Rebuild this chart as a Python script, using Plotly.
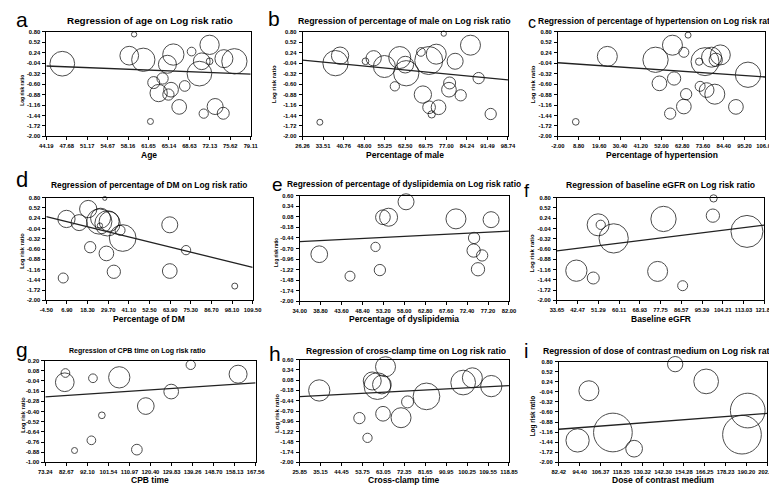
import plotly.graph_objects as go

W, H = 777, 486

# ---------------- data ----------------
titles = ["Regression of age on Log risk ratio",
          "Regression of percentage of male on Log risk ratio",
          "Regression of percentage of hypertension on Log risk ratio",
          "Regression of percentage of DM on Log risk ratio",
          "Regression of percentage of dyslipidemia on Log risk ratio",
          "Regression of baseline eGFR on Log risk ratio",
          "Regression of CPB time on Log risk ratio",
          "Regression of cross-clamp time on Log risk ratio",
          "Regression of dose of contrast medium on Log risk ratio"]
x_titles = ["Age", "Percentage of male", "Percentage of hypertension",
            "Percentage of DM", "Percentage of dyslipidemia", "Baseline eGFR",
            "CPB time", "Cross-clamp time", "Dose of contrast medium"]
letters = ["a", "b", "c", "d", "e", "f", "g", "h", "i"]

xt_a = ["44.19", "47.68", "51.17", "54.67", "58.16", "61.65", "65.14", "68.63", "72.13", "75.62", "79.11"]
xt_b = ["26.26", "33.51", "40.76", "48.00", "55.25", "62.50", "69.75", "77.00", "84.24", "91.49", "98.74"]
xt_c = ["-2.00", "8.80", "19.60", "30.40", "41.20", "52.00", "62.80", "73.60", "84.40", "95.20", "106.00"]
xt_d = ["-4.50", "6.90", "18.30", "29.70", "41.10", "52.50", "63.90", "75.30", "86.70", "98.10", "109.50"]
xt_e = ["34.00", "38.80", "43.60", "48.40", "53.20", "58.00", "62.80", "67.60", "72.40", "77.20", "82.00"]
xt_f = ["33.65", "42.47", "51.29", "60.11", "68.93", "77.75", "86.57", "95.39", "104.21", "113.03", "121.85"]
xt_g = ["73.24", "82.67", "92.10", "101.54", "110.97", "120.40", "129.83", "139.26", "148.70", "158.13", "167.56"]
xt_h = ["25.85", "35.15", "44.45", "53.75", "63.05", "72.35", "81.65", "90.95", "100.25", "109.55", "118.85"]
xt_i = ["82.42", "94.40", "106.37", "118.35", "130.32", "142.30", "154.28", "166.25", "178.23", "190.20", "202.18"]

yt_std = ["0.80", "0.52", "0.24", "-0.04", "-0.32", "-0.60", "-0.88", "-1.16", "-1.44", "-1.72", "-2.00"]
yt_eh = ["0.60", "0.34", "0.08", "-0.18", "-0.44", "-0.70", "-0.96", "-1.22", "-1.48", "-1.74", "-2.00"]
yt_g = ["0.20", "0.08", "-0.04", "-0.16", "-0.28", "-0.40", "-0.52", "-0.64", "-0.76", "-0.88", "-1.00"]

a_x = [46.92, 59.19, 58.36, 60.76, 61.98, 62.54, 63.38, 64.05, 65.05, 65.50, 64.88, 65.89, 66.89, 67.84, 69.01, 70.35, 70.74, 71.08, 72.08, 72.08, 73.03, 74.42, 74.53, 76.32]
a_y = [-0.055, 0.73, 0.16, 0.05, -1.60, -0.56, -0.84, -0.45, -0.88, -0.75, -0.07, 0.19, -1.21, -0.65, 0.27, -0.32, 0.01, -1.39, 0.45, 0.01, -1.20, -1.38, 0.08, 0.01]
a_w = [24.7, 5.3, 18.7, 23.3, 6, 12, 17.3, 11.3, 11.3, 14.7, 18, 21.3, 14.7, 10.7, 8.7, 24.7, 16.7, 9.3, 19.3, 6.7, 16, 12, 18, 25.3]

b_x = [32.36, 37.88, 39.49, 48.46, 51.34, 55.14, 58.82, 60.54, 62.50, 62.85, 68.02, 68.71, 70.78, 70.90, 71.82, 74.24, 73.43, 76.08, 78.15, 77.92, 80.10, 82.06, 85.51, 88.39, 92.64]
b_y = [-1.62, -0.04, 0.16, 0.01, 0.09, -0.13, -0.66, 0.11, -0.08, -0.31, 0.26, -0.88, 0.03, -1.22, -1.41, -1.22, 0.20, 0.75, -0.57, -0.75, 0.01, -0.90, 0.44, -0.44, -1.40]
b_w = [6, 25.3, 17.3, 6.7, 15.3, 22, 9.3, 22, 16.7, 25.3, 8.7, 17.3, 28, 12.7, 7.3, 14.7, 20, 5.3, 12, 14.7, 16, 11.3, 20, 11.3, 11.3]

c_x = [7.33, 23.77, 48.87, 50.90, 56.50, 57.68, 58.53, 63.62, 63.62, 64.81, 65.82, 71.59, 72.10, 74.64, 75.49, 78.04, 79.74, 82.61, 80.23, 90.74, 97.02]
c_y = [-1.61, 0.14, 0.05, -0.58, -1.39, 0.44, -0.45, 0.25, -1.20, -0.87, 0.71, 0.00, -0.66, 0.00, -0.76, 0.12, -0.87, 0.18, 0.05, -1.21, -0.35]
c_w = [6.7, 20, 25.3, 14.7, 11.3, 20, 13.3, 10, 14.7, 11.3, 6, 7.3, 10, 28, 14.7, 20, 20, 20, 13.3, 14.7, 25.3]

d_x = [4.84, 6.63, 13.63, 18.66, 19.74, 24.76, 25.12, 25.48, 27.8, 28.7, 29.3, 30.2, 32.8, 36.25, 37.7, 63.7, 63.7, 72.7, 99.6]
d_y = [-1.39, 0.22, 0.12, 0.49, -0.55, 0.15, 0.04, 0.24, 0.78, -0.72, 0.10, 0.15, -1.22, -0.09, -0.30, 0.06, -1.20, -0.63, -1.61]
d_w = [10, 17.3, 16, 17.3, 11.3, 25.3, 5.3, 20, 4, 14.7, 25.3, 20, 13.3, 10, 26.7, 16, 14.7, 9.3, 6]

e_x = [38.5, 45.55, 51.4, 52.4, 53.1, 54.4, 58.4, 69.85, 74.0, 73.9, 75.85, 74.9, 77.9]
e_y = [-0.84, -1.38, -0.66, -1.23, 0.07, 0.07, 0.45, 0.03, -0.44, -0.75, -0.87, -1.21, 0.01]
e_w = [16.7, 10, 9.3, 11.3, 14.7, 18, 16, 20, 11.3, 13.3, 11.3, 13.3, 16]

f_x = [41.94, 49.13, 51.2, 52.3, 57.8, 76.5, 79.0, 87.15, 100.3, 100.0, 114.5]
f_y = [-1.19, -1.39, 0.06, 0.06, -0.31, -1.21, 0.22, -1.60, 0.78, 0.31, -0.12]
f_w = [21.3, 12, 22, 9.3, 29.3, 20, 25.3, 10, 7.3, 13.3, 32]

g_x = [81.97, 82.26, 86.34, 93.9, 94.6, 98.6, 106.4, 114.3, 118.3, 129.7, 138.45, 159.7]
g_y = [-0.055, 0.054, -0.86, -0.74, -0.008, -0.445, 0.003, -0.85, -0.336, -0.165, 0.15, 0.04]
g_w = [18.7, 8.7, 6, 8.7, 8.7, 6.7, 21.3, 10.7, 16.7, 14.7, 9.3, 18]

h_x = [34.57, 52.4, 56.0, 58.1, 60.4, 62.4, 64.0, 62.9, 70.9, 73.8, 82.2, 98.5, 102.6, 111.0]
h_y = [-0.18, -0.88, -1.38, 0.06, -0.07, -0.03, 0.42, -0.77, -0.87, -0.47, -0.33, 0.02, 0.14, -0.07]
h_w = [21.3, 11.3, 9.3, 18, 26.7, 18.7, 20, 14.7, 20, 12, 26.7, 24.7, 20, 21.3]

i_x = [93.19, 99.7, 113.5, 125.7, 149.3, 167.1, 187.7, 191.0]
i_y = [-1.39, -0.01, -1.17, -1.62, 0.73, 0.25, -1.23, -0.56]
i_w = [23.3, 20, 38.7, 16.7, 15.3, 24.7, 38.7, 34.7]

# fitted regression line: y at the left and right ends of the x range
fit_start = [-0.116, 0.04, -0.03, 0.285, -0.53, -0.65, -0.227, -0.335, -1.08]
fit_end = [-0.334, -0.49, -0.41, -1.10, -0.27, 0.05, -0.063, -0.058, -0.64]

# ---------------- layout spec (pixels) ----------------
xs = [a_x, b_x, c_x, d_x, e_x, f_x, g_x, h_x, i_x]
ys = [a_y, b_y, c_y, d_y, e_y, f_y, g_y, h_y, i_y]
ws = [a_w, b_w, c_w, d_w, e_w, f_w, g_w, h_w, i_w]
xts = [xt_a, xt_b, xt_c, xt_d, xt_e, xt_f, xt_g, xt_h, xt_i]
yts = [yt_std, yt_std, yt_std, yt_std, yt_eh, yt_std, yt_g, yt_eh, yt_std]

# plot box: x0, x1, y0(top), y1(bottom)
boxes = [(32, 241, 21, 127), (294, 504, 21, 127), (555, 767, 21, 127),
         (32, 243, 189, 293), (291, 505, 187, 294), (554, 766, 189, 293),
         (31, 246, 354, 457), (291, 505, 353, 457), (556, 769, 355, 457)]
title_pos = [(138, 10, 9.9), (398, 10, 8.8), (657, 10, 8.5), (137, 176, 8.4), (398, 175, 8.4),
             (660, 176, 8.6), (125, 344, 7.0), (400, 344, 8.6), (659, 344, 8.7)]
xtitle_y = [146, 146, 146, 312, 312, 312, 475, 475, 475]
ytitle_pos = [(7, 80, 4.9), (265, 74, 6), (530, 74, 6), (7, 243, 5.6), (268, 245, 4.6),
              (529, 245, 6), (8, 409, 5.6), (268, 408, 6.2), (530, 410, 6.4)]
letter_pos = [(7, 9, 21), (265, 8, 21), (529, 12, 16), (7, 171, 22), (268, 176, 19),
              (523, 182, 18), (7, 343, 21), (266, 347, 21), (522, 344, 20)]

FONT = "Liberation Sans"
fig = go.Figure()
annotations = []

for k in range(9):
    ax = "" if k == 0 else str(k + 1)
    xv = [float(t) for t in xts[k]]
    yv = [float(t) for t in yts[k]]
    x0, x1, y0, y1 = boxes[k]
    fig.add_trace(go.Scatter(
        x=xs[k], y=ys[k], mode="markers", xaxis="x" + ax, yaxis="y" + ax,
        marker=dict(size=ws[k], color="rgba(0,0,0,0)",
                    line=dict(color="black", width=1)),
        cliponaxis=False, showlegend=False, hoverinfo="x+y"))
    fig.add_trace(go.Scatter(
        x=[xv[0], xv[-1]], y=[fit_start[k], fit_end[k]], mode="lines",
        xaxis="x" + ax, yaxis="y" + ax,
        line=dict(color="#222222", width=1.3), showlegend=False, hoverinfo="skip"))
    common = dict(showgrid=False, zeroline=False, showline=True, mirror=True,
                  linecolor="black", linewidth=1, ticks="outside", ticklen=3,
                  tickwidth=1, tickcolor="black",
                  tickfont=dict(family=FONT, size=5.8, color="black", weight="bold"))
    fig.layout["xaxis" + ax] = dict(
        common, domain=[x0 / W, x1 / W], range=[xv[0], xv[-1]],
        tickvals=xv, ticktext=xts[k], anchor="y" + ax, ticklabelstandoff=1)
    fig.layout["yaxis" + ax] = dict(
        common, domain=[1 - y1 / H, 1 - y0 / H], range=[yv[-1], yv[0]],
        tickvals=yv, ticktext=yts[k], anchor="x" + ax, ticklabelstandoff=1)
    # titles
    tx, ty, tsz = title_pos[k]
    annotations.append(dict(x=tx / W, y=1 - ty / H, xref="paper", yref="paper",
                            text="<b>" + titles[k] + "</b>", showarrow=False,
                            font=dict(family=FONT, size=tsz, color="black"),
                            xanchor="center", yanchor="middle"))
    annotations.append(dict(x=(x0 + x1) / 2 / W, y=1 - xtitle_y[k] / H, xref="paper", yref="paper",
                            text="<b>" + x_titles[k] + "</b>", showarrow=False,
                            font=dict(family=FONT, size=8.5, color="black"),
                            xanchor="center", yanchor="middle"))
    yx, yy, ysz = ytitle_pos[k]
    annotations.append(dict(x=yx / W, y=1 - yy / H, xref="paper", yref="paper",
                            text="<b>Log risk ratio</b>", showarrow=False, textangle=-90,
                            font=dict(family=FONT, size=ysz, color="black"),
                            xanchor="center", yanchor="middle"))
    lx, ly, lsz = letter_pos[k]
    annotations.append(dict(x=lx / W, y=1 - ly / H, xref="paper", yref="paper",
                            text=letters[k], showarrow=False,
                            font=dict(family=FONT, size=lsz, color="black"),
                            xanchor="center", yanchor="middle"))

fig.update_layout(width=W, height=H, margin=dict(l=0, r=0, t=0, b=0),
                  paper_bgcolor="white", plot_bgcolor="white",
                  annotations=annotations, showlegend=False)
fig.write_html("out.html")
